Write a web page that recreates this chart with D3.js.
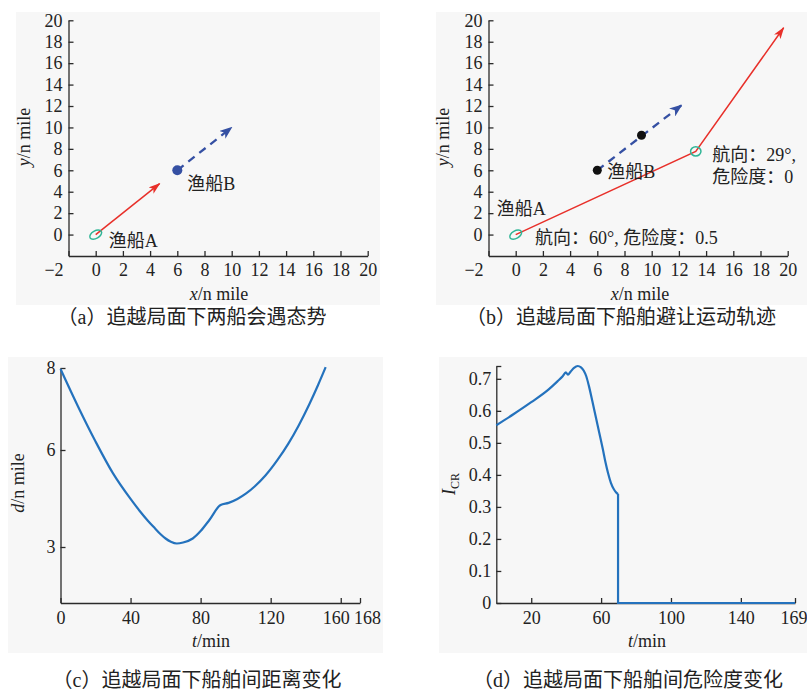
<!DOCTYPE html>
<html>
<head>
<meta charset="utf-8">
<script src="https://cdn.jsdelivr.net/npm/d3@7"></script>
<style>
body { margin: 0; background: #fff; }
svg text { font-family: "Liberation Serif", "Noto Sans CJK SC", serif; fill: #222; }
</style>
</head>
<body>
<script>
// ---------- data ----------
// (a)/(b) position axes, n mile
var posTicksY = [0, 2, 4, 6, 8, 10, 12, 14, 16, 18, 20];
var posTicksX = [-2, 0, 2, 4, 6, 8, 10, 12, 14, 16, 18, 20];
var posLabelsX = ["\u22122", "0", "2", "4", "6", "8", "10", "12", "14", "16", "18", "20"];

// (a) encounter situation
var shipA_a = [[0, 0], [4.7, 4.75]];
var shipB_a = [[6, 6], [10, 10]];

// (b) avoidance track
var shipA_b = [[0, 0], [13.24, 7.77], [19.7, 19.3]];
var shipB_b = [[6, 6], [12.2, 12.08]];
var shipB_dots = [[6, 6], [9.25, 9.27]];

// (c) distance between ships
var distT = [0, 10, 20, 30, 40, 45, 50, 54, 57, 60, 63, 66.4, 70, 75.5, 80, 85, 91.4, 96, 101, 106, 111, 117, 124, 130, 136, 142, 147, 151.4];
var distD = [7.976, 7.061, 6.207, 5.276, 4.486, 4.130, 3.805, 3.573, 3.402, 3.263, 3.164, 3.108, 3.139, 3.263, 3.495, 3.836, 4.300, 4.365, 4.485, 4.656, 4.879, 5.21, 5.70, 6.15, 6.60, 7.11, 7.58, 8.02];
var distTicksX = [0, 40, 80, 120, 160, 171];
var distLabelsX = ["0", "40", "80", "120", "160", "168"];
var distTicksY = [3, 6, 8];

// (d) collision risk index
var riskT = [0, 10, 20, 30, 35, 38, 39.8, 41, 42.5, 44.5, 46.6, 48.5, 50, 51.5, 53, 55, 57, 59, 61, 62.6, 64, 65.6, 67.3, 68.5, 69.7];
var riskI = [0.555, 0.59, 0.627, 0.667, 0.692, 0.708, 0.72, 0.713, 0.722, 0.734, 0.74, 0.736, 0.726, 0.708, 0.678, 0.630, 0.580, 0.530, 0.48, 0.437, 0.405, 0.375, 0.355, 0.346, 0.34];
var riskTailT = [69.7, 69.7, 171];
var riskTailI = [0.34, 0, 0];
var riskTicksX = [20, 60, 100, 140, 171];
var riskLabelsX = ["20", "60", "100", "140", "169"];
var riskTicksY = [0, 0.1, 0.2, 0.3, 0.4, 0.5, 0.6, 0.7, 0.74];

var RED = "#e8302a", BLUE = "#3550a3", GREEN = "#2fb596", CURVE = "#2472bd", AX = "#2b2b2b";
var SERIF = "'Liberation Serif', 'Noto Sans CJK SC', serif";

var svg = d3.select("body").append("svg")
    .attr("width", 807)
    .attr("height", 693)
    .attr("font-family", SERIF);

// arrow heads
var defs = svg.append("defs");
defs.append("marker").attr("id", "arrRed")
    .attr("viewBox", "0 0 12 8").attr("refX", 11).attr("refY", 4)
    .attr("markerWidth", 12).attr("markerHeight", 8)
    .attr("markerUnits", "userSpaceOnUse").attr("orient", "auto")
  .append("path").attr("d", "M0,0 L12,4 L0,8 L3,4 Z").attr("fill", RED);
defs.append("marker").attr("id", "arrBlue")
    .attr("viewBox", "0 0 13 10").attr("refX", 12).attr("refY", 5)
    .attr("markerWidth", 13).attr("markerHeight", 10)
    .attr("markerUnits", "userSpaceOnUse").attr("orient", "auto")
  .append("path").attr("d", "M0,0 L13,5 L0,10 L3.5,5 Z").attr("fill", BLUE);

// panel backgrounds
[[16, 12, 364, 293], [436, 12, 371, 293], [8, 357, 375, 296], [439, 357, 368, 296]].forEach(function(r) {
    svg.append("rect").attr("x", r[0]).attr("y", r[1]).attr("width", r[2]).attr("height", r[3]).attr("fill", "#f7f7f7");
});

function styleAxis(g) {
    g.attr("font-family", SERIF).attr("font-size", 18);
    g.select(".domain").attr("stroke", AX).attr("stroke-width", 1.3);
    g.selectAll(".tick line").attr("stroke", AX).attr("stroke-width", 1.3);
    g.selectAll(".tick text").attr("fill", "#222")
        .style("font-family", SERIF).style("font-size", "18px");
}

function posAxes(x, y) {
    var gx = svg.append("g").attr("transform", "translate(0," + y(-2) + ")")
        .call(d3.axisBottom(x).tickValues(posTicksX).tickSize(-5).tickSizeOuter(0).tickPadding(7)
            .tickFormat(function(d, i) { return posLabelsX[i]; }));
    styleAxis(gx);
    gx.selectAll(".tick text").filter(function(d) { return d === -2; }).attr("dx", -15);
    var gy = svg.append("g").attr("transform", "translate(" + x(-2) + ",0)")
        .call(d3.axisLeft(y).tickValues(posTicksY).tickSize(-5).tickSizeOuter(0).tickPadding(6)
            .tickFormat(d3.format("d")));
    styleAxis(gy);
}

var line = d3.line();

function label(x, y, str, size) {
    return svg.append("text").attr("x", x).attr("y", y).style("font-size", (size || 18) + "px").text(str);
}

function axisTitle(x, y, italic, rest, rotate) {
    var t = svg.append("text").attr("x", x).attr("y", y).attr("text-anchor", "middle").style("font-size", "18px");
    if (rotate) t.attr("transform", "rotate(-90," + x + "," + y + ")");
    t.append("tspan").style("font-style", "italic").text(italic);
    t.append("tspan").text(rest);
    return t;
}

// ---------- (a) ----------
var xA = d3.scaleLinear().domain([-2, 20]).range([68.5, 367.7]);
var yA = d3.scaleLinear().domain([-2, 20]).range([256, 20.3]);
posAxes(xA, yA);

svg.append("path").attr("d", line(shipA_a.map(function(d) { return [xA(d[0]), yA(d[1])]; })))
    .attr("fill", "none").attr("stroke", RED).attr("stroke-width", 1.5).attr("marker-end", "url(#arrRed)");
svg.append("ellipse").attr("cx", xA(0)).attr("cy", yA(0)).attr("rx", 6.5).attr("ry", 3.8)
    .attr("transform", "rotate(-30," + xA(0) + "," + yA(0) + ")")
    .attr("fill", "none").attr("stroke", GREEN).attr("stroke-width", 1.5);
svg.append("path").attr("d", line(shipB_a.map(function(d) { return [xA(d[0]), yA(d[1])]; })))
    .attr("fill", "none").attr("stroke", BLUE).attr("stroke-width", 2.3)
    .attr("stroke-dasharray", "8,6").attr("marker-end", "url(#arrBlue)");
svg.append("circle").attr("cx", xA(6)).attr("cy", yA(6)).attr("r", 5).attr("fill", BLUE);

label(xA(6) + 10, yA(6) + 20, "渔船B");
label(xA(0) + 13, yA(0) + 12, "渔船A");
axisTitle(219, 300, "x", "/n mile");
axisTitle(30, 137, "y", "/n mile", true);
label(192, 324, "（a）追越局面下两船会遇态势", 20).attr("text-anchor", "middle");

// ---------- (b) ----------
var xB = d3.scaleLinear().domain([-2, 20]).range([488.5, 787.7]);
var yB = d3.scaleLinear().domain([-2, 20]).range([256, 20.3]);
posAxes(xB, yB);

svg.append("path").attr("d", line(shipA_b.map(function(d) { return [xB(d[0]), yB(d[1])]; })))
    .attr("fill", "none").attr("stroke", RED).attr("stroke-width", 1.5).attr("marker-end", "url(#arrRed)");
svg.append("ellipse").attr("cx", xB(0)).attr("cy", yB(0)).attr("rx", 6.5).attr("ry", 3.8)
    .attr("transform", "rotate(-30," + xB(0) + "," + yB(0) + ")")
    .attr("fill", "none").attr("stroke", GREEN).attr("stroke-width", 1.5);
svg.append("ellipse").attr("cx", xB(shipA_b[1][0])).attr("cy", yB(shipA_b[1][1])).attr("rx", 5.2).attr("ry", 4.6)
    .attr("fill", "none").attr("stroke", GREEN).attr("stroke-width", 1.5);
svg.append("path").attr("d", line(shipB_b.map(function(d) { return [xB(d[0]), yB(d[1])]; })))
    .attr("fill", "none").attr("stroke", BLUE).attr("stroke-width", 2.3)
    .attr("stroke-dasharray", "8,6").attr("marker-end", "url(#arrBlue)");
svg.selectAll(".dotB").data(shipB_dots).enter().append("circle")
    .attr("cx", function(d) { return xB(d[0]); })
    .attr("cy", function(d) { return yB(d[1]); })
    .attr("r", 4.5).attr("fill", "#111");

label(496.7, 215, "渔船A");
label(607.3, 178, "渔船B");
label(712.3, 161, "航向：29°,");
label(712.3, 183, "危险度：0");
label(535, 244, "航向：60°, 危险度：0.5");
axisTitle(640, 300, "x", "/n mile");
axisTitle(449, 137, "y", "/n mile", true);
label(621, 324, "（b）追越局面下船舶避让运动轨迹", 20).attr("text-anchor", "middle");

// ---------- (c) ----------
var xC = d3.scaleLinear().domain([0, 171]).range([60.5, 360]);
// axis is not evenly spaced in the original figure
var yC = d3.scaleLinear().domain([1.27, 3, 6, 8]).range([603, 547, 450, 368]);

var gxc = svg.append("g").attr("transform", "translate(0,603)")
    .call(d3.axisBottom(xC).tickValues(distTicksX).tickSize(-5).tickSizeOuter(0).tickPadding(8)
        .tickFormat(function(d, i) { return distLabelsX[i]; }));
styleAxis(gxc);
gxc.selectAll(".tick text").filter(function(d) { return d === 160; }).attr("dx", -5);
gxc.selectAll(".tick text").filter(function(d) { return d === 171; }).attr("dx", 7);
var gyc = svg.append("g").attr("transform", "translate(60.5,0)")
    .call(d3.axisLeft(yC).tickValues(distTicksY).tickSize(-5).tickSizeOuter(0).tickPadding(5)
        .tickFormat(d3.format("d")));
styleAxis(gyc);

svg.append("path")
    .datum(distT.map(function(t, i) { return [t, distD[i]]; }))
    .attr("d", d3.line().x(function(d) { return xC(d[0]); }).y(function(d) { return yC(d[1]); }).curve(d3.curveMonotoneX))
    .attr("fill", "none").attr("stroke", CURVE).attr("stroke-width", 2.2);

axisTitle(211, 647, "t", "/min");
axisTitle(24, 483, "d", "/n mile", true);
label(197, 687, "（c）追越局面下船舶间距离变化", 20).attr("text-anchor", "middle");

// ---------- (d) ----------
var xD = d3.scaleLinear().domain([0, 171]).range([496.3, 795]);
var yD = d3.scaleLinear().domain([0, 0.74]).range([603, 366]);

var gxd = svg.append("g").attr("transform", "translate(0,603)")
    .call(d3.axisBottom(xD).tickValues(riskTicksX).tickSize(-5).tickSizeOuter(0).tickPadding(8)
        .tickFormat(function(d, i) { return riskLabelsX[i]; }));
styleAxis(gxd);
gxd.selectAll(".tick text").filter(function(d) { return d === 171; }).attr("dx", -1.5);
var gyd = svg.append("g").attr("transform", "translate(496.3,0)")
    .call(d3.axisLeft(yD).tickValues(riskTicksY).tickSize(-5).tickSizeOuter(0).tickPadding(5)
        .tickFormat(function(d) { return d === 0.74 ? "" : (d === 0 ? "0" : d3.format(".1f")(d)); }));
styleAxis(gyd);

var lineD = d3.line().x(function(d) { return xD(d[0]); }).y(function(d) { return yD(d[1]); });
svg.append("path")
    .datum(riskT.map(function(t, i) { return [t, riskI[i]]; }))
    .attr("d", lineD.curve(d3.curveMonotoneX))
    .attr("fill", "none").attr("stroke", CURVE).attr("stroke-width", 2.2);
svg.append("path")
    .datum(riskTailT.map(function(t, i) { return [t, riskTailI[i]]; }))
    .attr("d", lineD.curve(d3.curveLinear))
    .attr("fill", "none").attr("stroke", CURVE).attr("stroke-width", 2.2);

axisTitle(647, 647, "t", "/min");
var ic = svg.append("text").attr("x", 455).attr("y", 484).attr("text-anchor", "middle")
    .attr("transform", "rotate(-90,455,484)").style("font-size", "18px");
ic.append("tspan").style("font-style", "italic").text("I");
ic.append("tspan").attr("dy", 4).style("font-size", "12px").text("CR");
label(628, 687, "（d）追越局面下船舶间危险度变化", 20).attr("text-anchor", "middle");
</script>
</body>
</html>
